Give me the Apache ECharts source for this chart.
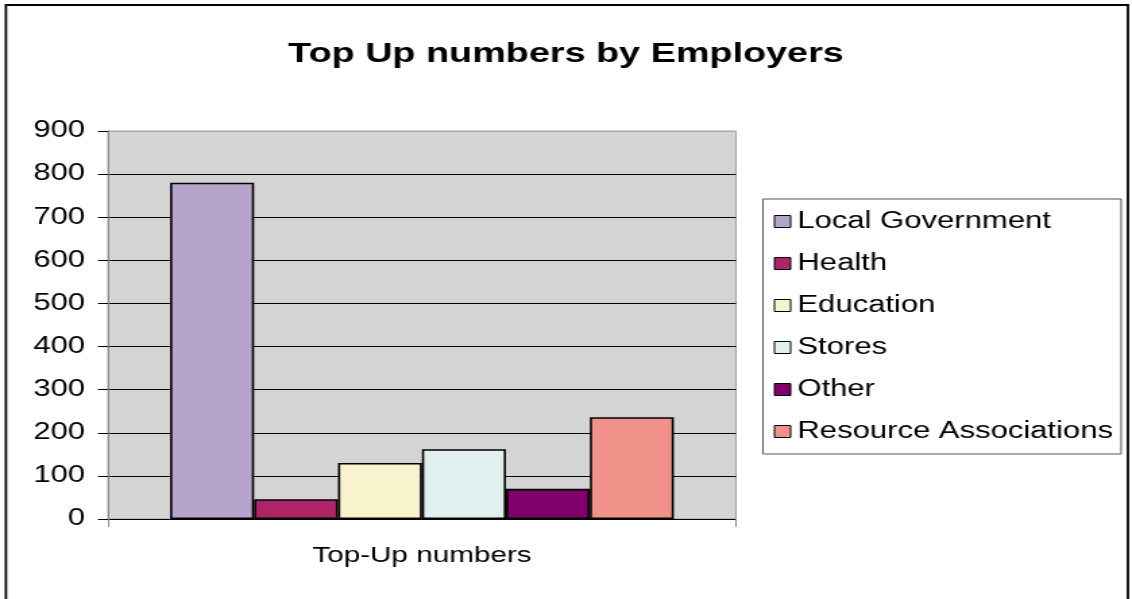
<!DOCTYPE html>
<html>
<head>
<meta charset="utf-8">
<title>Top Up numbers by Employers</title>
<script src="https://cdn.jsdelivr.net/npm/echarts@6/dist/echarts.min.js"></script>
<style>
  html, body { margin: 0; padding: 0; background: #ffffff; overflow: hidden; }
  /* The chart is laid out at a narrower width and stretched sideways to the full page width. */
  #chart { width: 839px; height: 599px; transform: scaleX(1.3492); transform-origin: 0 0; }
</style>
</head>
<body>
<div id="chart"></div>
<script>
// Chart data
const categories = ['Top-Up numbers'];
const employers = ['Local Government', 'Health', 'Education', 'Stores', 'Other', 'Resource Associations'];
const topUpValues = [780, 46, 130, 162, 70, 236];
const employerColors = ['#b6a4cb', '#ad2566', '#f6f3cd', '#e1f0ef', '#80006b', '#f0928a'];
const yTicks = [0, 100, 200, 300, 400, 500, 600, 700, 800, 900];

const FONT = "'Liberation Sans', Arial, sans-serif";

const chart = echarts.init(document.getElementById('chart'), null, { renderer: 'canvas' });

// one gridline per tick; the top one blends into the plot border
const splitColors = yTicks.map((v, i) => (i === yTicks.length - 1 ? '#a8a8a8' : '#000000'));

const series = employers.map((name, i) => ({
  name: name,
  type: 'bar',
  data: [topUpValues[i]],
  barGap: '0%',
  barCategoryGap: '19.8%',
  itemStyle: { color: employerColors[i], borderColor: '#000000', borderWidth: 1.6 },
  emphasis: { disabled: true },
  animation: false
}));

chart.setOption({
  animation: false,
  backgroundColor: '#ffffff',
  textStyle: { fontFamily: FONT },
  title: {
    text: 'Top Up numbers by Employers',
    left: 'center',
    top: 35,
    textStyle: { fontFamily: FONT, fontSize: 28, fontWeight: 'bold', color: '#000000' }
  },
  grid: {
    left: 80,
    right: 293.5,
    top: 131,
    bottom: 80,
    show: true,
    backgroundColor: '#d4d4d4',
    borderColor: '#a0a0a0',
    borderWidth: 1,
    containLabel: false
  },
  legend: {
    orient: 'vertical',
    left: 565.5,
    top: 199,
    padding: [11, 6, 11, 8],
    itemGap: 19,
    itemWidth: 12,
    itemHeight: 12,
    icon: 'rect',
    borderColor: '#555555',
    borderWidth: 1,
    backgroundColor: '#ffffff',
    itemStyle: { borderColor: '#000000', borderWidth: 1 },
    textStyle: { fontFamily: FONT, fontSize: 23, color: '#000000', padding: [0, 0, 0, 0] },
    data: employers
  },
  xAxis: {
    type: 'category',
    data: categories,
    axisLine: { show: true, lineStyle: { color: '#000000', width: 1 } },
    axisTick: { show: true, alignWithLabel: false, length: 8, lineStyle: { color: '#888888', width: 1 } },
    axisLabel: { margin: 26, fontFamily: FONT, fontSize: 22, color: '#000000' },
    splitLine: { show: false }
  },
  yAxis: {
    type: 'value',
    min: 0,
    max: 900,
    interval: 100,
    axisLine: { show: true, lineStyle: { color: '#888888', width: 1 } },
    axisTick: { show: true, length: 7.4, lineStyle: { color: '#000000', width: 1 } },
    axisLabel: { margin: 17, fontFamily: FONT, fontSize: 23, color: '#000000' },
    splitLine: { show: true, lineStyle: { color: splitColors, width: 1 } }
  },
  graphic: [{
    type: 'rect',
    silent: true,
    shape: { x: 4.4, y: 5, width: 831.6, height: 620 },
    style: { fill: null, stroke: '#000000', lineWidth: 1.8 },
    z: 100
  }],
  series: series
});
</script>
</body>
</html>
